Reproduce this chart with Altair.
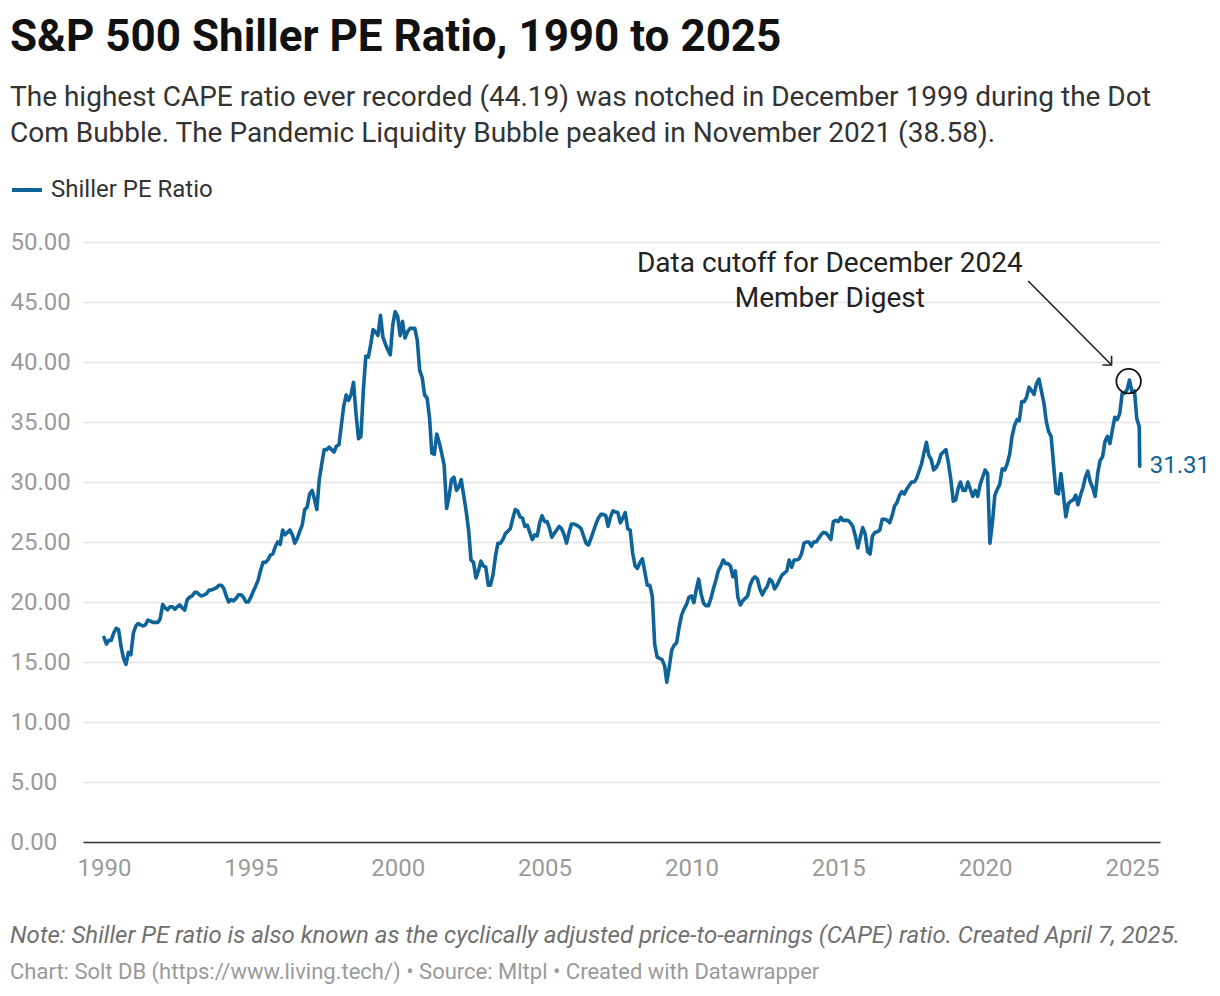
import altair as alt
import pandas as pd

# Shiller PE (CAPE) ratio, monthly values
cape_1990s = [
    17.05, 16.5, 16.8, 16.8, 17.4, 17.8, 17.7, 16.3, 15.3, 14.8, 15.8, 15.6,   # 1990
    17.4, 18.0, 18.2, 18.1, 18.0, 18.1, 18.5, 18.4, 18.3, 18.3, 18.3, 18.6,     # 1991
    19.8, 19.5, 19.35, 19.6, 19.6, 19.4, 19.6, 19.75, 19.5, 19.33, 20.2, 20.4,  # 1992
    20.5, 20.8, 20.8, 20.6, 20.5, 20.6, 20.7, 21.0, 21.0, 21.1, 21.2, 21.4,     # 1993
    21.4, 21.1, 20.5, 20.0, 20.2, 20.1, 20.3, 20.6, 20.6, 20.4, 20.0, 20.0,     # 1994
    20.4, 20.9, 21.3, 21.8, 22.6, 23.3, 23.3, 23.5, 23.9, 24.0, 24.6, 25.0,     # 1995
    24.8, 26.0, 25.6, 25.8, 26.0, 25.6, 24.9, 25.3, 25.9, 26.4, 27.7, 27.9,     # 1996
    29.0, 29.3, 28.6, 27.7, 30.2, 31.5, 32.7, 32.7, 32.9, 32.7, 32.5, 33.0,     # 1997
    33.1, 34.8, 36.3, 37.25, 36.8, 37.3, 38.3, 35.7, 33.6, 33.8, 37.7, 40.5,    # 1998
    40.4, 41.5, 42.7, 42.5, 42.2, 43.9, 42.1, 41.5, 41.0, 40.6, 43.1, 44.19,    # 1999
]
cape_2000s = [
    43.8, 42.2, 43.4, 42.0, 42.5, 42.8, 42.8, 42.8, 41.8, 39.3, 38.7, 37.25,    # 2000
    37.0, 35.3, 32.4, 32.3, 34.0, 33.3, 32.4, 31.4, 27.8, 28.8, 30.2, 30.4,     # 2001
    29.3, 29.6, 30.2, 28.9, 27.6, 26.0, 23.5, 23.3, 22.0, 22.6, 23.4, 23.0,     # 2002
    22.9, 21.4, 21.4, 22.3, 23.8, 24.9, 24.9, 25.2, 25.7, 25.9, 26.1, 26.9,     # 2003
    27.7, 27.6, 27.1, 27.0, 26.3, 26.4, 25.8, 25.2, 25.6, 25.5, 26.6, 27.2,     # 2004
    26.7, 26.7, 26.2, 25.4, 25.7, 26.0, 26.3, 26.1, 25.6, 24.9, 25.8, 26.5,     # 2005
    26.5, 26.4, 26.3, 26.1, 25.5, 24.9, 24.75, 25.3, 25.9, 26.5, 27.0, 27.3,    # 2006
    27.3, 27.2, 26.3, 27.1, 27.6, 27.5, 27.45, 26.6, 27.0, 27.45, 26.1, 26.0,   # 2007
    24.1, 23.0, 22.8, 23.3, 23.6, 22.5, 21.4, 21.4, 20.5, 16.5, 15.4, 15.3,     # 2008
    15.2, 14.7, 13.32, 14.6, 16.0, 16.4, 16.6, 17.9, 18.9, 19.4, 19.8, 20.4,    # 2009
]
cape_2010s = [
    20.5, 19.95, 21.0, 21.9, 20.7, 19.9, 19.7, 19.7, 20.3, 21.1, 21.8, 22.6,    # 2010
    23.0, 23.5, 23.2, 23.2, 23.0, 22.1, 22.6, 20.4, 19.75, 20.1, 20.3, 20.5,    # 2011
    21.4, 21.9, 22.1, 21.9, 21.1, 20.6, 21.0, 21.3, 21.9, 21.7, 21.1, 21.4,     # 2012
    21.85, 22.25, 22.4, 22.6, 23.5, 22.9, 23.5, 23.5, 23.6, 24.0, 24.9, 25.0,   # 2013
    25.0, 24.65, 25.0, 25.0, 25.3, 25.6, 25.8, 25.75, 25.5, 25.2, 26.7, 26.8,   # 2014
    26.7, 27.05, 26.8, 26.8, 26.8, 26.6, 26.3, 25.5, 24.5, 25.4, 26.2, 25.7,    # 2015
    24.2, 24.0, 25.5, 25.8, 25.85, 26.0, 26.9, 26.9, 26.8, 26.6, 27.2, 28.0,    # 2016
    28.3, 28.9, 29.2, 29.0, 29.4, 29.7, 30.0, 30.0, 30.3, 30.9, 31.5, 32.4,     # 2017
    33.31, 32.2, 31.9, 31.0, 31.2, 31.6, 32.3, 32.5, 32.7, 31.6, 30.2, 28.4,    # 2018
    28.5, 29.5, 30.0, 29.3, 29.3, 30.0, 29.4, 28.8, 29.3, 28.8, 29.8, 30.4,     # 2019
]
cape_2020s = [
    31.0, 30.7, 24.9, 26.6, 28.9, 29.4, 29.8, 31.1, 31.0, 31.5, 32.3, 33.8,     # 2020
    34.7, 35.2, 35.1, 36.7, 36.7, 37.1, 37.9, 37.6, 37.3, 38.2, 38.58, 37.6,    # 2021
    36.6, 35.0, 34.2, 33.8, 31.5, 29.1, 29.0, 30.7, 28.9, 27.1, 28.2, 28.4,     # 2022
    28.5, 28.9, 28.1, 28.9, 29.5, 30.4, 30.9, 30.0, 29.5, 28.8, 30.7, 31.8,     # 2023
    32.1, 33.4, 33.8, 33.2, 34.3, 35.4, 35.2, 35.7, 37.4, 37.4, 37.7, 38.5,     # 2024
    37.5, 37.6, 35.3, 34.6,                                                     # 2025
]
latest_date = "2025-04-07"
latest_value = 31.31
series_name = "Shiller PE Ratio"

x_tick_years = [1990, 1995, 2000, 2005, 2010, 2015, 2020, 2025]
y_tick_values = [0, 5, 10, 15, 20, 25, 30, 35, 40, 45, 50]

title_text = "S&P 500 Shiller PE Ratio, 1990 to 2025"
subtitle_lines = [
    "The highest CAPE ratio ever recorded (44.19) was notched in December 1999 during the Dot",
    "Com Bubble. The Pandemic Liquidity Bubble peaked in November 2021 (38.58).",
]
note_text = ("Note: Shiller PE ratio is also known as the cyclically adjusted "
             "price-to-earnings (CAPE) ratio. Created April 7, 2025.")
source_text = "Chart: Solt DB (https://www.living.tech/) \u2022 Source: Mltpl \u2022 Created with Datawrapper"
annotation_lines = ["Data cutoff for December 2024", "Member Digest"]

# annotation anchor points (data space)
annotation_pos = {"date": "2014-09-18", "value": 48.15}
cutoff_pos = {"date": "2024-11-20", "value": 38.4}
arrow_pos = {"date": "2021-06-20", "value": 46.75, "date2": "2024-04-22", "value2": 39.75}

BLUE = "#0e6399"
FONT = "Roboto"

values = cape_1990s + cape_2000s + cape_2010s + cape_2020s
dates = pd.date_range("1990-01-01", periods=len(values), freq="MS").strftime("%Y-%m-%d").tolist()
dates.append(latest_date)
values.append(latest_value)
df = pd.DataFrame({"date": dates, "value": values, "series": series_name})

x_enc = alt.X(
    "date:T",
    scale=alt.Scale(domain=[alt.DateTime(year=1989, month=4, date=15),
                            alt.DateTime(year=2025, month=12, date=15)]),
    axis=alt.Axis(
        values=[alt.DateTime(year=y, month=1, date=1) for y in x_tick_years],
        format="%Y", title=None, grid=False, ticks=False, tickSize=0,
        labelFontSize=24, labelFont=FONT, labelColor="#9a9a9a",
        labelPadding=14, labelBaseline="top",
        domain=True, domainColor="#333333", domainWidth=1.5,
    ),
)
y_enc = alt.Y(
    "value:Q",
    scale=alt.Scale(domain=[0, 50], nice=False),
    axis=alt.Axis(
        values=y_tick_values, format=".2f", title=None, ticks=False, tickSize=0,
        domain=False, labelAlign="left", labelPadding=73, labelBaseline="middle",
        labelFontSize=24, labelFont=FONT, labelColor="#9a9a9a",
        gridColor="#e3e3e3", gridWidth=1.5,
    ),
)

line = alt.Chart(df).mark_line(strokeWidth=3.6, strokeJoin="round", strokeCap="round").encode(
    x=x_enc,
    y=y_enc,
    color=alt.Color(
        "series:N",
        scale=alt.Scale(domain=[series_name], range=[BLUE]),
        legend=alt.Legend(
            orient="none", legendX=-73, legendY=-69, title=None,
            symbolType="stroke", symbolStrokeWidth=4, symbolSize=900,
            labelFontSize=24, labelFont=FONT, labelColor="#333333",
            labelOffset=7, padding=0, labelLimit=0,
        ),
    ),
)

end_label = alt.Chart(df.tail(1)).mark_text(
    align="left", baseline="middle", dx=10, fontSize=24, font=FONT, color=BLUE
).encode(x="date:T", y="value:Q", text=alt.Text("value:Q", format=".2f"))

cutoff_circle = alt.Chart(pd.DataFrame([cutoff_pos])).mark_point(
    shape="circle", size=600, filled=False, stroke="#111111", strokeWidth=1.8, opacity=1
).encode(x="date:T", y="value:Q")

arrow_df = pd.DataFrame([arrow_pos])
arrow_line = alt.Chart(arrow_df).mark_rule(stroke="#222222", strokeWidth=1.6).encode(
    x="date:T", y="value:Q", x2="date2:T", y2="value2:Q"
)
arrow_head = alt.Chart(arrow_df).mark_point(
    shape="M-1,-1L0,0L-1,1", angle=45, size=170, filled=False,
    stroke="#222222", strokeWidth=1.6, opacity=1
).encode(x=alt.X("date2:T"), y=alt.Y("value2:Q"))

annot_df = pd.DataFrame([{**annotation_pos, "label": "\n".join(annotation_lines)}])
annotation = alt.Chart(annot_df).mark_text(
    fontSize=28, font=FONT, color="#222222", align="center", baseline="middle",
    lineHeight=35, lineBreak="\n"
).encode(x="date:T", y="value:Q", text="label:N")

one = pd.DataFrame({"k": [0]})
title = alt.Chart(one).mark_text(
    text=title_text, fontSize=44, fontWeight="bold", font=FONT, color="#111111",
    align="left", baseline="alphabetic"
).encode(x=alt.value(-73), y=alt.value(-191))
subtitle = alt.Chart(one).mark_text(
    text="\n".join(subtitle_lines), lineBreak="\n", lineHeight=36, fontSize=28, font=FONT,
    color="#333333", align="left", baseline="alphabetic"
).encode(x=alt.value(-73), y=alt.value(-136))
note = alt.Chart(one).mark_text(
    text=note_text, fontSize=24, font=FONT, fontStyle="italic", color="#707070",
    align="left", baseline="middle"
).encode(x=alt.value(-73), y=alt.value(694))
source = alt.Chart(one).mark_text(
    text=source_text, fontSize=22, font=FONT, color="#9a9a9a",
    align="left", baseline="middle"
).encode(x=alt.value(-73), y=alt.value(730))

chart = alt.layer(
    line, end_label, cutoff_circle, arrow_line, arrow_head, annotation,
    title, subtitle, note, source
).properties(
    width=1077, height=600,
    autosize=alt.AutoSizeParams(type="none"),
    padding={"left": 75, "top": 234, "right": 52, "bottom": 146},
    background="white",
).configure_view(stroke=None)

chart.save("out.html", embed_options={"renderer": "svg", "actions": False})
